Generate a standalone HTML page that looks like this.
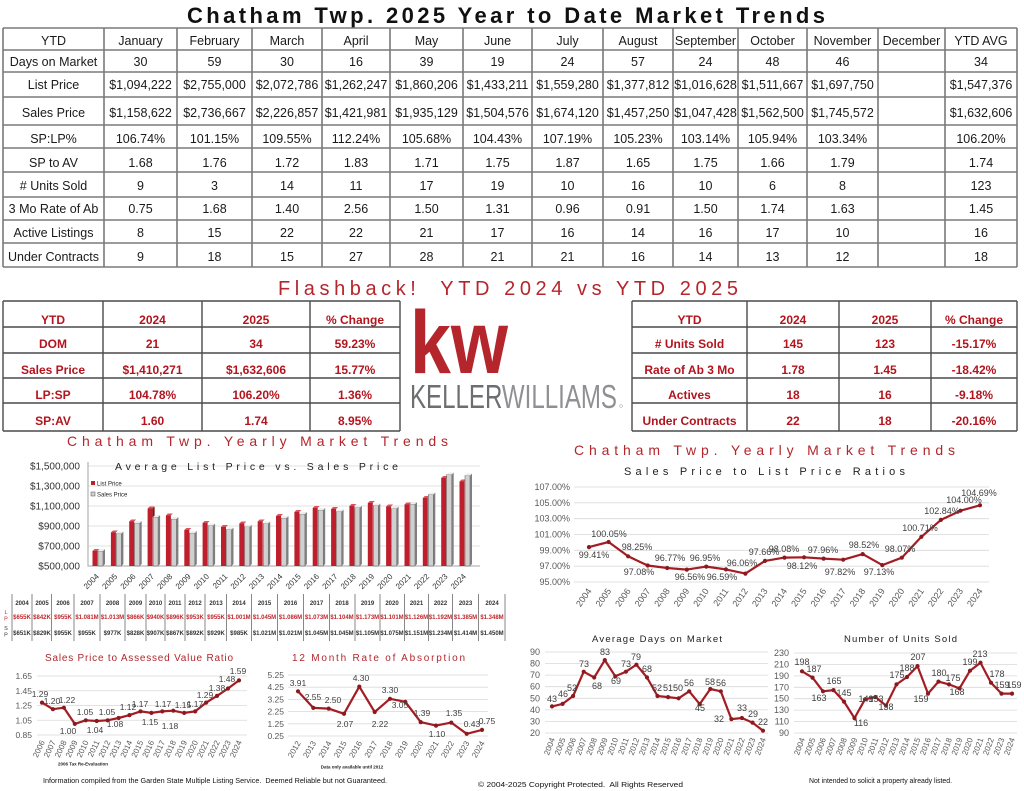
<!DOCTYPE html>
<html><head><meta charset="utf-8"><style>
html,body{margin:0;padding:0;background:#fff;}
svg{display:block;font-family:"Liberation Sans",sans-serif;}
.r{fill:#bf1e2d}.rs{fill:#7a1219}.rt{fill:#d9545c}
.g{fill:#d0d0d0;stroke:#555;stroke-width:.5}.gs{fill:#7f7f7f}.gt{fill:#ededed}
.grid{stroke:#d9d9d9;stroke-width:.8;fill:none}
.ln{fill:none;stroke:#a31d24;stroke-width:2.2;stroke-linejoin:round;marker-start:url(#m);marker-mid:url(#m);marker-end:url(#m)}
</style></head><body>
<svg width="1024" height="791" viewBox="0 0 1024 791" xmlns="http://www.w3.org/2000/svg">
<defs><marker id="m" markerWidth="6" markerHeight="6" refX="3" refY="3" markerUnits="userSpaceOnUse"><circle cx="3" cy="3" r="2.1" fill="#8b1a1f"/></marker></defs>
<rect width="1024" height="791" fill="#fff"/>

<!-- Title -->
<text x="187" y="23" font-size="22" font-weight="bold" fill="#111" textLength="638" lengthAdjust="spacing">Chatham Twp. 2025 Year to Date Market Trends</text>

<!-- Top table -->
<path d="M3 28H1017M3 50H1017M3 72H1017M3 97H1017M3 125H1017M3 148H1017M3 172H1017M3 197H1017M3 220H1017M3 243H1017M3 267H1017M3 28V267M104 28V267M177 28V267M252 28V267M322 28V267M390 28V267M463 28V267M532 28V267M603 28V267M673 28V267M738 28V267M807 28V267M878 28V267M945 28V267M1017 28V267" stroke="#7a7a7a" stroke-width="1.6" fill="none"/>
<g text-anchor="middle" font-size="12.5" fill="#1a1a1a">
<text y="45"><tspan x="53.5">YTD</tspan><tspan x="140.5">January</tspan><tspan x="214.5">February</tspan><tspan x="287">March</tspan><tspan x="356">April</tspan><tspan x="426.5">May</tspan><tspan x="497.5">June</tspan><tspan x="567.5">July</tspan><tspan x="638">August</tspan><tspan x="705.5">September</tspan><tspan x="772.5">October</tspan><tspan x="842.5">November</tspan><tspan x="911.5">December</tspan><tspan x="981">YTD AVG</tspan></text>
<text y="66"><tspan x="53.5">Days on Market</tspan><tspan x="140.5">30</tspan><tspan x="214.5">59</tspan><tspan x="287">30</tspan><tspan x="356">16</tspan><tspan x="426.5">39</tspan><tspan x="497.5">19</tspan><tspan x="567.5">24</tspan><tspan x="638">57</tspan><tspan x="705.5">24</tspan><tspan x="772.5">48</tspan><tspan x="842.5">46</tspan><tspan x="981">34</tspan></text>
<text y="89"><tspan x="53.5">List Price</tspan><tspan x="140.5">$1,094,222</tspan><tspan x="214.5">$2,755,000</tspan><tspan x="287">$2,072,786</tspan><tspan x="356">$1,262,247</tspan><tspan x="426.5">$1,860,206</tspan><tspan x="497.5">$1,433,211</tspan><tspan x="567.5">$1,559,280</tspan><tspan x="638">$1,377,812</tspan><tspan x="705.5">$1,016,628</tspan><tspan x="772.5">$1,511,667</tspan><tspan x="842.5">$1,697,750</tspan><tspan x="981">$1,547,376</tspan></text>
<text y="117"><tspan x="53.5">Sales Price</tspan><tspan x="140.5">$1,158,622</tspan><tspan x="214.5">$2,736,667</tspan><tspan x="287">$2,226,857</tspan><tspan x="356">$1,421,981</tspan><tspan x="426.5">$1,935,129</tspan><tspan x="497.5">$1,504,576</tspan><tspan x="567.5">$1,674,120</tspan><tspan x="638">$1,457,250</tspan><tspan x="705.5">$1,047,428</tspan><tspan x="772.5">$1,562,500</tspan><tspan x="842.5">$1,745,572</tspan><tspan x="981">$1,632,606</tspan></text>
<text y="143"><tspan x="53.5">SP:LP%</tspan><tspan x="140.5">106.74%</tspan><tspan x="214.5">101.15%</tspan><tspan x="287">109.55%</tspan><tspan x="356">112.24%</tspan><tspan x="426.5">105.68%</tspan><tspan x="497.5">104.43%</tspan><tspan x="567.5">107.19%</tspan><tspan x="638">105.23%</tspan><tspan x="705.5">103.14%</tspan><tspan x="772.5">105.94%</tspan><tspan x="842.5">103.34%</tspan><tspan x="981">106.20%</tspan></text>
<text y="167"><tspan x="53.5">SP to AV</tspan><tspan x="140.5">1.68</tspan><tspan x="214.5">1.76</tspan><tspan x="287">1.72</tspan><tspan x="356">1.83</tspan><tspan x="426.5">1.71</tspan><tspan x="497.5">1.75</tspan><tspan x="567.5">1.87</tspan><tspan x="638">1.65</tspan><tspan x="705.5">1.75</tspan><tspan x="772.5">1.66</tspan><tspan x="842.5">1.79</tspan><tspan x="981">1.74</tspan></text>
<text y="190"><tspan x="53.5"># Units Sold</tspan><tspan x="140.5">9</tspan><tspan x="214.5">3</tspan><tspan x="287">14</tspan><tspan x="356">11</tspan><tspan x="426.5">17</tspan><tspan x="497.5">19</tspan><tspan x="567.5">10</tspan><tspan x="638">16</tspan><tspan x="705.5">10</tspan><tspan x="772.5">6</tspan><tspan x="842.5">8</tspan><tspan x="981">123</tspan></text>
<text y="213"><tspan x="53.5">3 Mo Rate of Ab</tspan><tspan x="140.5">0.75</tspan><tspan x="214.5">1.68</tspan><tspan x="287">1.40</tspan><tspan x="356">2.56</tspan><tspan x="426.5">1.50</tspan><tspan x="497.5">1.31</tspan><tspan x="567.5">0.96</tspan><tspan x="638">0.91</tspan><tspan x="705.5">1.50</tspan><tspan x="772.5">1.74</tspan><tspan x="842.5">1.63</tspan><tspan x="981">1.45</tspan></text>
<text y="237"><tspan x="53.5">Active Listings</tspan><tspan x="140.5">8</tspan><tspan x="214.5">15</tspan><tspan x="287">22</tspan><tspan x="356">22</tspan><tspan x="426.5">21</tspan><tspan x="497.5">17</tspan><tspan x="567.5">16</tspan><tspan x="638">14</tspan><tspan x="705.5">16</tspan><tspan x="772.5">17</tspan><tspan x="842.5">10</tspan><tspan x="981">16</tspan></text>
<text y="261"><tspan x="53.5">Under Contracts</tspan><tspan x="140.5">9</tspan><tspan x="214.5">18</tspan><tspan x="287">15</tspan><tspan x="356">27</tspan><tspan x="426.5">28</tspan><tspan x="497.5">21</tspan><tspan x="567.5">21</tspan><tspan x="638">16</tspan><tspan x="705.5">14</tspan><tspan x="772.5">13</tspan><tspan x="842.5">12</tspan><tspan x="981">18</tspan></text>
</g>

<!-- Flashback -->
<text x="278" y="295" font-size="20" fill="#b5262c" textLength="460" lengthAdjust="spacing" style="white-space:pre">Flashback!  YTD 2024 vs YTD 2025</text>
<path d="M3 301H400M3 327H400M3 353H400M3 378H400M3 403H400M3 431H400M3 301V431M103 301V431M202 301V431M310 301V431M400 301V431M632 301H1017M632 327H1017M632 353H1017M632 378H1017M632 403H1017M632 431H1017M632 301V431M747 301V431M839 301V431M931 301V431M1017 301V431" stroke="#4a4a4a" stroke-width="1.4" fill="none"/>
<g text-anchor="middle" font-size="12" font-weight="bold" fill="#b3141d">
<text y="324"><tspan x="53">YTD</tspan><tspan x="152.5">2024</tspan><tspan x="256">2025</tspan><tspan x="355">% Change</tspan></text>
<text y="348"><tspan x="53">DOM</tspan><tspan x="152.5">21</tspan><tspan x="256">34</tspan><tspan x="355">59.23%</tspan></text>
<text y="374"><tspan x="53">Sales Price</tspan><tspan x="152.5">$1,410,271</tspan><tspan x="256">$1,632,606</tspan><tspan x="355">15.77%</tspan></text>
<text y="399"><tspan x="53">LP:SP</tspan><tspan x="152.5">104.78%</tspan><tspan x="256">106.20%</tspan><tspan x="355">1.36%</tspan></text>
<text y="425"><tspan x="53">SP:AV</tspan><tspan x="152.5">1.60</tspan><tspan x="256">1.74</tspan><tspan x="355">8.95%</tspan></text>
<text y="324"><tspan x="689.5">YTD</tspan><tspan x="793">2024</tspan><tspan x="885">2025</tspan><tspan x="974">% Change</tspan></text>
<text y="348"><tspan x="689.5"># Units Sold</tspan><tspan x="793">145</tspan><tspan x="885">123</tspan><tspan x="974">-15.17%</tspan></text>
<text y="374"><tspan x="689.5">Rate of Ab 3 Mo</tspan><tspan x="793">1.78</tspan><tspan x="885">1.45</tspan><tspan x="974">-18.42%</tspan></text>
<text y="399"><tspan x="689.5">Actives</tspan><tspan x="793">18</tspan><tspan x="885">16</tspan><tspan x="974">-9.18%</tspan></text>
<text y="425"><tspan x="689.5">Under Contracts</tspan><tspan x="793">22</tspan><tspan x="885">18</tspan><tspan x="974">-20.16%</tspan></text>
</g>

<!-- KW logo -->
<text x="410" y="373" font-size="89" font-weight="bold" fill="#b5262c" textLength="98" lengthAdjust="spacingAndGlyphs">kw</text>
<text x="410" y="408" font-size="33" textLength="207" lengthAdjust="spacingAndGlyphs"><tspan fill="#6d6e71">KELLER</tspan><tspan fill="#8f9093">WILLIAMS</tspan></text>
<circle cx="621" cy="406" r="1.4" fill="none" stroke="#999" stroke-width=".5"/>

<!-- Bar chart -->
<text x="67" y="446" font-size="14" fill="#b3262c" textLength="381" lengthAdjust="spacing">Chatham Twp. Yearly Market Trends</text>
<path class="grid" d="M88 466H480M88 486H480M88 506H480M88 526H480M88 546H480"/>
<path d="M88 462V566H480" stroke="#a6a6a6" stroke-width="1" fill="none"/>
<g font-size="10" fill="#333" text-anchor="end">
<text x="80" y="469.5">$1,500,000</text><text x="80" y="489.5">$1,300,000</text><text x="80" y="509.5">$1,100,000</text><text x="80" y="529.5">$900,000</text><text x="80" y="549.5">$700,000</text><text x="80" y="569.5">$500,000</text>
</g>
<text x="115" y="470" font-size="10.5" fill="#222" textLength="283" lengthAdjust="spacing">Average List Price vs. Sales Price</text>
<rect x="91" y="481" width="4" height="4" fill="#bf1e2d"/><text x="97" y="485.5" font-size="6" fill="#222">List Price</text>
<rect x="91" y="492" width="4" height="4" fill="#d0d0d0" stroke="#555" stroke-width=".5"/><text x="97" y="496.5" font-size="6" fill="#222">Sales Price</text>
<g transform="translate(92.5)"><rect class="r" y="551" width="5" height="15"/><path class="rt" d="M0 551l2-2h5l-2 2z"/><rect class="g" x="5.5" y="551" width="5" height="15"/><path class="gs" d="M10.5 551l2-2V564l-2 2z"/><path class="gt" d="M5.5 551l2-2h5l-2 2z"/></g>
<g transform="translate(110.9)"><rect class="r" y="532.5" width="5" height="33.5"/><path class="rt" d="M0 532.5l2-2h5l-2 2z"/><rect class="g" x="5.5" y="533.5" width="5" height="32.5"/><path class="gs" d="M10.5 533.5l2-2V564l-2 2z"/><path class="gt" d="M5.5 533.5l2-2h5l-2 2z"/></g>
<g transform="translate(129.2)"><rect class="r" y="521.5" width="5" height="44.5"/><path class="rt" d="M0 521.5l2-2h5l-2 2z"/><rect class="g" x="5.5" y="523" width="5" height="43"/><path class="gs" d="M10.5 523l2-2V564l-2 2z"/><path class="gt" d="M5.5 523l2-2h5l-2 2z"/></g>
<g transform="translate(147.6)"><rect class="r" y="508.5" width="5" height="57.5"/><path class="rt" d="M0 508.5l2-2h5l-2 2z"/><path class="rs" d="M5 508.5l2-2V517l-2 0z"/><rect class="g" x="5.5" y="517" width="5" height="49"/><path class="gs" d="M10.5 517l2-2V564l-2 2z"/><path class="gt" d="M5.5 517l2-2h5l-2 2z"/></g>
<g transform="translate(165.9)"><rect class="r" y="515.5" width="5" height="50.5"/><path class="rt" d="M0 515.5l2-2h5l-2 2z"/><rect class="g" x="5.5" y="519" width="5" height="47"/><path class="gs" d="M10.5 519l2-2V564l-2 2z"/><path class="gt" d="M5.5 519l2-2h5l-2 2z"/></g>
<g transform="translate(184.3)"><rect class="r" y="530" width="5" height="36"/><path class="rt" d="M0 530l2-2h5l-2 2z"/><rect class="g" x="5.5" y="533" width="5" height="33"/><path class="gs" d="M10.5 533l2-2V564l-2 2z"/><path class="gt" d="M5.5 533l2-2h5l-2 2z"/></g>
<g transform="translate(202.6)"><rect class="r" y="523" width="5" height="43"/><path class="rt" d="M0 523l2-2h5l-2 2z"/><rect class="g" x="5.5" y="525.5" width="5" height="40.5"/><path class="gs" d="M10.5 525.5l2-2V564l-2 2z"/><path class="gt" d="M5.5 525.5l2-2h5l-2 2z"/></g>
<g transform="translate(221)"><rect class="r" y="527" width="5" height="39"/><path class="rt" d="M0 527l2-2h5l-2 2z"/><rect class="g" x="5.5" y="529.5" width="5" height="36.5"/><path class="gs" d="M10.5 529.5l2-2V564l-2 2z"/><path class="gt" d="M5.5 529.5l2-2h5l-2 2z"/></g>
<g transform="translate(239.3)"><rect class="r" y="523.5" width="5" height="42.5"/><path class="rt" d="M0 523.5l2-2h5l-2 2z"/><rect class="g" x="5.5" y="526.7" width="5" height="39.3"/><path class="gs" d="M10.5 526.7l2-2V564l-2 2z"/><path class="gt" d="M5.5 526.7l2-2h5l-2 2z"/></g>
<g transform="translate(257.7)"><rect class="r" y="521.5" width="5" height="44.5"/><path class="rt" d="M0 521.5l2-2h5l-2 2z"/><rect class="g" x="5.5" y="523.5" width="5" height="42.5"/><path class="gs" d="M10.5 523.5l2-2V564l-2 2z"/><path class="gt" d="M5.5 523.5l2-2h5l-2 2z"/></g>
<g transform="translate(276)"><rect class="r" y="516" width="5" height="50"/><path class="rt" d="M0 516l2-2h5l-2 2z"/><rect class="g" x="5.5" y="518" width="5" height="48"/><path class="gs" d="M10.5 518l2-2V564l-2 2z"/><path class="gt" d="M5.5 518l2-2h5l-2 2z"/></g>
<g transform="translate(294.4)"><rect class="r" y="512" width="5" height="54"/><path class="rt" d="M0 512l2-2h5l-2 2z"/><rect class="g" x="5.5" y="514" width="5" height="52"/><path class="gs" d="M10.5 514l2-2V564l-2 2z"/><path class="gt" d="M5.5 514l2-2h5l-2 2z"/></g>
<g transform="translate(312.7)"><rect class="r" y="508" width="5" height="58"/><path class="rt" d="M0 508l2-2h5l-2 2z"/><rect class="g" x="5.5" y="510" width="5" height="56"/><path class="gs" d="M10.5 510l2-2V564l-2 2z"/><path class="gt" d="M5.5 510l2-2h5l-2 2z"/></g>
<g transform="translate(331.1)"><rect class="r" y="509" width="5" height="57"/><path class="rt" d="M0 509l2-2h5l-2 2z"/><rect class="g" x="5.5" y="511.5" width="5" height="54.5"/><path class="gs" d="M10.5 511.5l2-2V564l-2 2z"/><path class="gt" d="M5.5 511.5l2-2h5l-2 2z"/></g>
<g transform="translate(349.4)"><rect class="r" y="506" width="5" height="60"/><path class="rt" d="M0 506l2-2h5l-2 2z"/><rect class="g" x="5.5" y="507.5" width="5" height="58.5"/><path class="gs" d="M10.5 507.5l2-2V564l-2 2z"/><path class="gt" d="M5.5 507.5l2-2h5l-2 2z"/></g>
<g transform="translate(367.8)"><rect class="r" y="503" width="5" height="63"/><path class="rt" d="M0 503l2-2h5l-2 2z"/><rect class="g" x="5.5" y="505.5" width="5" height="60.5"/><path class="gs" d="M10.5 505.5l2-2V564l-2 2z"/><path class="gt" d="M5.5 505.5l2-2h5l-2 2z"/></g>
<g transform="translate(386.1)"><rect class="r" y="506.5" width="5" height="59.5"/><path class="rt" d="M0 506.5l2-2h5l-2 2z"/><rect class="g" x="5.5" y="508.5" width="5" height="57.5"/><path class="gs" d="M10.5 508.5l2-2V564l-2 2z"/><path class="gt" d="M5.5 508.5l2-2h5l-2 2z"/></g>
<g transform="translate(404.5)"><rect class="r" y="504.5" width="5" height="61.5"/><path class="rt" d="M0 504.5l2-2h5l-2 2z"/><rect class="g" x="5.5" y="504" width="5" height="62"/><path class="gs" d="M10.5 504l2-2V564l-2 2z"/><path class="gt" d="M5.5 504l2-2h5l-2 2z"/></g>
<g transform="translate(422.8)"><rect class="r" y="498" width="5" height="68"/><path class="rt" d="M0 498l2-2h5l-2 2z"/><rect class="g" x="5.5" y="494.5" width="5" height="71.5"/><path class="gs" d="M10.5 494.5l2-2V564l-2 2z"/><path class="gt" d="M5.5 494.5l2-2h5l-2 2z"/></g>
<g transform="translate(441.2)"><rect class="r" y="478" width="5" height="88"/><path class="rt" d="M0 478l2-2h5l-2 2z"/><rect class="g" x="5.5" y="474.5" width="5" height="91.5"/><path class="gs" d="M10.5 474.5l2-2V564l-2 2z"/><path class="gt" d="M5.5 474.5l2-2h5l-2 2z"/></g>
<g transform="translate(459.5)"><rect class="r" y="481.5" width="5" height="84.5"/><path class="rt" d="M0 481.5l2-2h5l-2 2z"/><rect class="g" x="5.5" y="475.5" width="5" height="90.5"/><path class="gs" d="M10.5 475.5l2-2V564l-2 2z"/><path class="gt" d="M5.5 475.5l2-2h5l-2 2z"/></g>
<g font-size="8" fill="#333" text-anchor="end">
<text transform="translate(99.5,577)rotate(-45)">2004</text><text transform="translate(117.9,577)rotate(-45)">2005</text><text transform="translate(136.2,577)rotate(-45)">2006</text><text transform="translate(154.6,577)rotate(-45)">2007</text><text transform="translate(172.9,577)rotate(-45)">2008</text><text transform="translate(191.3,577)rotate(-45)">2009</text><text transform="translate(209.6,577)rotate(-45)">2010</text><text transform="translate(228,577)rotate(-45)">2011</text><text transform="translate(246.3,577)rotate(-45)">2012</text><text transform="translate(264.7,577)rotate(-45)">2013</text><text transform="translate(283,577)rotate(-45)">2014</text><text transform="translate(301.4,577)rotate(-45)">2015</text><text transform="translate(319.7,577)rotate(-45)">2016</text><text transform="translate(338.1,577)rotate(-45)">2017</text><text transform="translate(356.4,577)rotate(-45)">2018</text><text transform="translate(374.8,577)rotate(-45)">2019</text><text transform="translate(393.1,577)rotate(-45)">2020</text><text transform="translate(411.5,577)rotate(-45)">2021</text><text transform="translate(429.8,577)rotate(-45)">2022</text><text transform="translate(448.2,577)rotate(-45)">2023</text><text transform="translate(466.5,577)rotate(-45)">2024</text>
</g>

<!-- Bar data table -->
<path d="M12 594V641M32 594V641M51.5 594V641M74 594V641M100 594V641M125 594V641M146 594V641M165 594V641M185 594V641M205 594V641M226.5 594V641M251.5 594V641M277.5 594V641M303.5 594V641M329.5 594V641M355 594V641M380 594V641M404.5 594V641M428.5 594V641M452.5 594V641M478.5 594V641M505 594V641" stroke="#555" stroke-width=".7" fill="none"/>
<g font-size="5.5" fill="#c0272d" text-anchor="middle"><text x="6" y="614">L</text><text x="6" y="620.5">P</text></g>
<g font-size="5.5" fill="#333" text-anchor="middle"><text x="6" y="630">S</text><text x="6" y="636.5">P</text></g>
<g font-size="6" font-weight="bold" text-anchor="middle">
<text y="605" fill="#333"><tspan x="22">2004</tspan><tspan x="42">2005</tspan><tspan x="63">2006</tspan><tspan x="87">2007</tspan><tspan x="112.5">2008</tspan><tspan x="135.5">2009</tspan><tspan x="155.5">2010</tspan><tspan x="175">2011</tspan><tspan x="195">2012</tspan><tspan x="216">2013</tspan><tspan x="239">2014</tspan><tspan x="264.5">2015</tspan><tspan x="290.5">2016</tspan><tspan x="316.5">2017</tspan><tspan x="342">2018</tspan><tspan x="367.5">2019</tspan><tspan x="392">2020</tspan><tspan x="416.5">2021</tspan><tspan x="440.5">2022</tspan><tspan x="465.5">2023</tspan><tspan x="492">2024</tspan></text>
<text y="619" fill="#c0272d"><tspan x="22">$655K</tspan><tspan x="42">$842K</tspan><tspan x="63">$955K</tspan><tspan x="87">$1.081M</tspan><tspan x="112.5">$1.013M</tspan><tspan x="135.5">$866K</tspan><tspan x="155.5">$940K</tspan><tspan x="175">$896K</tspan><tspan x="195">$953K</tspan><tspan x="216">$955K</tspan><tspan x="239">$1.001M</tspan><tspan x="264.5">$1.045M</tspan><tspan x="290.5">$1.086M</tspan><tspan x="316.5">$1.073M</tspan><tspan x="342">$1.104M</tspan><tspan x="367.5">$1.173M</tspan><tspan x="392">$1.101M</tspan><tspan x="416.5">$1.126M</tspan><tspan x="440.5">$1.192M</tspan><tspan x="465.5">$1.385M</tspan><tspan x="492">$1.348M</tspan></text>
<text y="635" fill="#333"><tspan x="22">$651K</tspan><tspan x="42">$829K</tspan><tspan x="63">$955K</tspan><tspan x="87">$955K</tspan><tspan x="112.5">$977K</tspan><tspan x="135.5">$828K</tspan><tspan x="155.5">$907K</tspan><tspan x="175">$867K</tspan><tspan x="195">$892K</tspan><tspan x="216">$929K</tspan><tspan x="239">$985K</tspan><tspan x="264.5">$1.021M</tspan><tspan x="290.5">$1.021M</tspan><tspan x="316.5">$1.045M</tspan><tspan x="342">$1.045M</tspan><tspan x="367.5">$1.105M</tspan><tspan x="392">$1.075M</tspan><tspan x="416.5">$1.151M</tspan><tspan x="440.5">$1.234M</tspan><tspan x="465.5">$1.414M</tspan><tspan x="492">$1.450M</tspan></text>
</g>

<!-- SP/LP chart -->
<text x="574" y="455" font-size="14" fill="#b3262c" textLength="381" lengthAdjust="spacing">Chatham Twp. Yearly Market Trends</text>
<text x="624" y="475" font-size="11" fill="#222" textLength="281" lengthAdjust="spacing">Sales Price to List Price Ratios</text>
<path class="grid" d="M574 487H989M574 502.8H989M574 518.7H989M574 534.5H989M574 550.3H989M574 566.2H989M574 582H989"/>
<g font-size="9" fill="#595959" text-anchor="end">
<text x="570" y="490">107.00%</text><text x="570" y="505.8">105.00%</text><text x="570" y="521.7">103.00%</text><text x="570" y="537.5">101.00%</text><text x="570" y="553.3">99.00%</text><text x="570" y="569.2">97.00%</text><text x="570" y="585">95.00%</text>
</g>
<polyline class="ln" points="589,547.1 608.6,542 628.1,556.3 647.7,565.5 667.2,568 686.8,569.6 706.3,566.6 725.9,569.4 745.4,573.6 765,560.9 784.5,557.6 804.1,557.3 823.6,558.6 843.2,559.7 862.7,554.1 882.3,565.1 901.8,557.7 921.4,536.8 940.9,519.9 960.5,510.7 980,505.3"/>
<g font-size="9" fill="#404040" text-anchor="middle">
<text x="594" y="558">99.41%</text><text x="609" y="537">100.05%</text><text x="637" y="550">98.25%</text><text x="639" y="575">97.08%</text><text x="670" y="561">96.77%</text><text x="690" y="580">96.56%</text><text x="705" y="561">96.95%</text><text x="722" y="580">96.59%</text><text x="742" y="566">96.06%</text><text x="764" y="555">97.66%</text><text x="784" y="552">98.08%</text><text x="802" y="569">98.12%</text><text x="823" y="553">97.96%</text><text x="840" y="575">97.82%</text><text x="864" y="548">98.52%</text><text x="879" y="575">97.13%</text><text x="900" y="552">98.07%</text><text x="920" y="531">100.71%</text><text x="942" y="514">102.84%</text><text x="964" y="503">104.00%</text><text x="979" y="496">104.69%</text>
</g>
<g font-size="9" fill="#595959" text-anchor="end">
<text transform="translate(592,591)rotate(-55)">2004</text><text transform="translate(611.6,591)rotate(-55)">2005</text><text transform="translate(631.1,591)rotate(-55)">2006</text><text transform="translate(650.7,591)rotate(-55)">2007</text><text transform="translate(670.2,591)rotate(-55)">2008</text><text transform="translate(689.8,591)rotate(-55)">2009</text><text transform="translate(709.3,591)rotate(-55)">2010</text><text transform="translate(728.9,591)rotate(-55)">2011</text><text transform="translate(748.4,591)rotate(-55)">2012</text><text transform="translate(768,591)rotate(-55)">2013</text><text transform="translate(787.5,591)rotate(-55)">2014</text><text transform="translate(807.1,591)rotate(-55)">2015</text><text transform="translate(826.6,591)rotate(-55)">2016</text><text transform="translate(846.2,591)rotate(-55)">2017</text><text transform="translate(865.7,591)rotate(-55)">2018</text><text transform="translate(885.3,591)rotate(-55)">2019</text><text transform="translate(904.8,591)rotate(-55)">2020</text><text transform="translate(924.4,591)rotate(-55)">2021</text><text transform="translate(943.9,591)rotate(-55)">2022</text><text transform="translate(963.5,591)rotate(-55)">2023</text><text transform="translate(983,591)rotate(-55)">2024</text>
</g>

<!-- Chart A: SP to AV -->
<text x="45" y="661" font-size="10" fill="#b3262c" textLength="188" lengthAdjust="spacing">Sales Price to Assessed Value Ratio</text>
<path class="grid" d="M37 676H247M37 690.75H247M37 705.5H247M37 720.25H247M37 735H247"/>
<g font-size="8.5" fill="#595959" text-anchor="end">
<text x="32" y="679">1.65</text><text x="32" y="693.75">1.45</text><text x="32" y="708.5">1.25</text><text x="32" y="723.25">1.05</text><text x="32" y="738">0.85</text>
</g>
<polyline class="ln" points="42,702.6 52.9,709.2 63.9,707.7 74.8,723.9 85.8,720.3 96.7,721 107.6,720.3 118.6,718 129.5,715.1 140.5,711.4 151.4,712.9 162.3,711.4 173.3,710.7 184.2,712.9 195.2,711.4 206.1,702.6 217,695.9 228,688.5 239,680.4"/>
<g font-size="8.5" fill="#404040" text-anchor="middle">
<text x="40" y="697">1.29</text><text x="52" y="704">1.20</text><text x="67" y="703">1.22</text><text x="68" y="734">1.00</text><text x="85" y="715">1.05</text><text x="95" y="733">1.04</text><text x="107" y="715">1.05</text><text x="115" y="727">1.08</text><text x="128" y="710">1.12</text><text x="140" y="707">1.17</text><text x="150" y="725">1.15</text><text x="163" y="707">1.17</text><text x="170" y="729">1.18</text><text x="183" y="708">1.15</text><text x="195" y="707">1.17</text><text x="205" y="698">1.29</text><text x="217" y="691">1.38</text><text x="227" y="682">1.48</text><text x="238" y="674">1.59</text>
</g>
<g font-size="8" fill="#595959" text-anchor="end">
<text transform="translate(45,742)rotate(-65)">2006</text><text transform="translate(55.9,742)rotate(-65)">2007</text><text transform="translate(66.9,742)rotate(-65)">2008</text><text transform="translate(77.8,742)rotate(-65)">2009</text><text transform="translate(88.8,742)rotate(-65)">2010</text><text transform="translate(99.7,742)rotate(-65)">2011</text><text transform="translate(110.6,742)rotate(-65)">2012</text><text transform="translate(121.6,742)rotate(-65)">2013</text><text transform="translate(132.5,742)rotate(-65)">2014</text><text transform="translate(143.5,742)rotate(-65)">2015</text><text transform="translate(154.4,742)rotate(-65)">2016</text><text transform="translate(165.3,742)rotate(-65)">2017</text><text transform="translate(176.3,742)rotate(-65)">2018</text><text transform="translate(187.2,742)rotate(-65)">2019</text><text transform="translate(198.2,742)rotate(-65)">2020</text><text transform="translate(209.1,742)rotate(-65)">2021</text><text transform="translate(220,742)rotate(-65)">2022</text><text transform="translate(231,742)rotate(-65)">2023</text><text transform="translate(242,742)rotate(-65)">2024</text>
</g>
<text x="58" y="765.5" font-size="4.5" font-weight="bold" fill="#222">2006 Tax Re-Evaluation</text>

<!-- Chart B: Absorption -->
<text x="292" y="661" font-size="10" fill="#b3262c" textLength="173" lengthAdjust="spacing">12 Month Rate of Absorption</text>
<path class="grid" d="M288 675H488M288 687.2H488M288 699.4H488M288 711.6H488M288 723.8H488M288 736H488"/>
<g font-size="8.5" fill="#595959" text-anchor="end">
<text x="284" y="678">5.25</text><text x="284" y="690.2">4.25</text><text x="284" y="702.4">3.25</text><text x="284" y="714.6">2.25</text><text x="284" y="726.8">1.25</text><text x="284" y="739">0.25</text>
</g>
<polyline class="ln" points="298,691.3 313.3,707.9 328.7,708.6 344,713.8 359.3,686.6 374.7,712 390,698.8 405.3,701.8 420.7,722.1 436,725.6 451.3,722.6 466.7,733.8 482,729.9"/>
<g font-size="8.5" fill="#404040" text-anchor="middle">
<text x="298" y="686">3.91</text><text x="313" y="700">2.55</text><text x="333" y="703">2.50</text><text x="345" y="727">2.07</text><text x="361" y="681">4.30</text><text x="380" y="727">2.22</text><text x="390" y="693">3.30</text><text x="400" y="708">3.05</text><text x="422" y="716">1.39</text><text x="437" y="737">1.10</text><text x="454" y="716">1.35</text><text x="472" y="727">0.43</text><text x="487" y="724">0.75</text>
</g>
<g font-size="8" fill="#595959" text-anchor="end">
<text transform="translate(301,743)rotate(-60)">2012</text><text transform="translate(316.3,743)rotate(-60)">2013</text><text transform="translate(331.7,743)rotate(-60)">2014</text><text transform="translate(347,743)rotate(-60)">2015</text><text transform="translate(362.3,743)rotate(-60)">2016</text><text transform="translate(377.7,743)rotate(-60)">2017</text><text transform="translate(393,743)rotate(-60)">2018</text><text transform="translate(408.3,743)rotate(-60)">2019</text><text transform="translate(423.7,743)rotate(-60)">2020</text><text transform="translate(439,743)rotate(-60)">2021</text><text transform="translate(454.3,743)rotate(-60)">2022</text><text transform="translate(469.7,743)rotate(-60)">2023</text><text transform="translate(485,743)rotate(-60)">2024</text>
</g>
<text x="352" y="768.5" font-size="4.5" font-weight="bold" fill="#222" text-anchor="middle">Data only available until 2012</text>

<!-- Chart C: DOM -->
<text x="592" y="642" font-size="9.5" fill="#222" textLength="130" lengthAdjust="spacing">Average Days on Market</text>
<path class="grid" d="M545 652H768M545 663.6H768M545 675.1H768M545 686.7H768M545 698.3H768M545 709.9H768M545 721.4H768M545 733H768"/>
<g font-size="9" fill="#595959" text-anchor="end">
<text x="540" y="655">90</text><text x="540" y="666.6">80</text><text x="540" y="678.1">70</text><text x="540" y="689.7">60</text><text x="540" y="701.3">50</text><text x="540" y="712.9">40</text><text x="540" y="724.4">30</text><text x="540" y="736">20</text>
</g>
<polyline class="ln" points="552,706.4 562.6,703.9 573.1,696 583.7,671.7 594.2,677.5 604.8,660.1 615.3,676.3 625.9,671.7 636.4,664.7 647,677.5 657.5,696 668.1,697.1 678.6,698.3 689.2,691.3 699.7,704.1 710.3,689 720.8,691.3 731.4,719.1 741.9,718 752.5,722.6 763,730.7"/>
<g font-size="9" fill="#404040" text-anchor="middle">
<text x="552" y="702">43</text><text x="563" y="697">46</text><text x="572" y="691">52</text><text x="584" y="667">73</text><text x="597" y="689">68</text><text x="605" y="655">83</text><text x="616" y="684">69</text><text x="626" y="667">73</text><text x="636" y="660">79</text><text x="647" y="672">68</text><text x="657" y="691">52</text><text x="668" y="691">51</text><text x="678" y="691">50</text><text x="689" y="686">56</text><text x="700" y="711">45</text><text x="710" y="685">58</text><text x="721" y="686">56</text><text x="719" y="722">32</text><text x="742" y="711">33</text><text x="753" y="717">29</text><text x="763" y="725">22</text>
</g>
<g font-size="8" fill="#595959" text-anchor="end">
<text transform="translate(555,739)rotate(-70)">2004</text><text transform="translate(565.6,739)rotate(-70)">2005</text><text transform="translate(576.1,739)rotate(-70)">2006</text><text transform="translate(586.7,739)rotate(-70)">2007</text><text transform="translate(597.2,739)rotate(-70)">2008</text><text transform="translate(607.8,739)rotate(-70)">2009</text><text transform="translate(618.3,739)rotate(-70)">2010</text><text transform="translate(628.9,739)rotate(-70)">2011</text><text transform="translate(639.4,739)rotate(-70)">2012</text><text transform="translate(650,739)rotate(-70)">2013</text><text transform="translate(660.5,739)rotate(-70)">2014</text><text transform="translate(671.1,739)rotate(-70)">2015</text><text transform="translate(681.6,739)rotate(-70)">2016</text><text transform="translate(692.2,739)rotate(-70)">2017</text><text transform="translate(702.7,739)rotate(-70)">2018</text><text transform="translate(713.3,739)rotate(-70)">2019</text><text transform="translate(723.8,739)rotate(-70)">2020</text><text transform="translate(734.4,739)rotate(-70)">2021</text><text transform="translate(744.9,739)rotate(-70)">2022</text><text transform="translate(755.5,739)rotate(-70)">2023</text><text transform="translate(766,739)rotate(-70)">2024</text>
</g>

<!-- Chart D: Units Sold -->
<text x="844" y="642" font-size="9.5" fill="#222" textLength="113" lengthAdjust="spacing">Number of Units Sold</text>
<path class="grid" d="M794 653H1017M794 664.4H1017M794 675.9H1017M794 687.3H1017M794 698.7H1017M794 710.1H1017M794 721.6H1017M794 733H1017"/>
<g font-size="9" fill="#595959" text-anchor="end">
<text x="789" y="656">230</text><text x="789" y="667.4">210</text><text x="789" y="678.9">190</text><text x="789" y="690.3">170</text><text x="789" y="701.7">150</text><text x="789" y="713.1">130</text><text x="789" y="724.6">110</text><text x="789" y="736">90</text>
</g>
<polyline class="ln" points="802,671.3 812.5,677.6 823,691.3 833.5,690.1 844,701.6 854.5,718.1 865,699.3 875.5,697 886,705.6 896.5,684.4 907,677 917.5,666.1 928,693.6 938.5,681.6 949,684.4 959.5,688.4 970,670.7 980.5,662.7 991,682.7 1001.5,693.6 1012,693.6"/>
<g font-size="9" fill="#404040" text-anchor="middle">
<text x="802" y="665">198</text><text x="814" y="672">187</text><text x="819" y="701">163</text><text x="834" y="684">165</text><text x="844" y="696">145</text><text x="861" y="726">116</text><text x="866" y="702">149</text><text x="876" y="702">153</text><text x="886" y="710">138</text><text x="897" y="678">175</text><text x="907" y="671">188</text><text x="918" y="660">207</text><text x="921" y="702">159</text><text x="939" y="676">180</text><text x="953" y="681">175</text><text x="957" y="695">168</text><text x="970" y="665">199</text><text x="980" y="657">213</text><text x="997" y="677">178</text><text x="1002" y="688">159</text><text x="1014" y="688">159</text>
</g>
<g font-size="8" fill="#595959" text-anchor="end">
<text transform="translate(805,739)rotate(-70)">2004</text><text transform="translate(815.5,739)rotate(-70)">2005</text><text transform="translate(826,739)rotate(-70)">2006</text><text transform="translate(836.5,739)rotate(-70)">2007</text><text transform="translate(847,739)rotate(-70)">2008</text><text transform="translate(857.5,739)rotate(-70)">2009</text><text transform="translate(868,739)rotate(-70)">2010</text><text transform="translate(878.5,739)rotate(-70)">2011</text><text transform="translate(889,739)rotate(-70)">2012</text><text transform="translate(899.5,739)rotate(-70)">2013</text><text transform="translate(910,739)rotate(-70)">2014</text><text transform="translate(920.5,739)rotate(-70)">2015</text><text transform="translate(931,739)rotate(-70)">2016</text><text transform="translate(941.5,739)rotate(-70)">2017</text><text transform="translate(952,739)rotate(-70)">2018</text><text transform="translate(962.5,739)rotate(-70)">2019</text><text transform="translate(973,739)rotate(-70)">2020</text><text transform="translate(983.5,739)rotate(-70)">2021</text><text transform="translate(994,739)rotate(-70)">2022</text><text transform="translate(1004.5,739)rotate(-70)">2023</text><text transform="translate(1015,739)rotate(-70)">2024</text>
</g>

<!-- Footer -->
<text x="43" y="783" font-size="7.5" fill="#111" textLength="344" lengthAdjust="spacingAndGlyphs" style="white-space:pre">Information compiled from the Garden State Multiple Listing Service.  Deemed Reliable but not Guaranteed.</text>
<text x="478" y="787" font-size="7.5" fill="#111" textLength="205" lengthAdjust="spacingAndGlyphs" style="white-space:pre">© 2004-2025 Copyright Protected.  All Rights Reserved</text>
<text x="809" y="783" font-size="7.5" fill="#111" textLength="143" lengthAdjust="spacingAndGlyphs">Not intended to solicit a property already listed.</text>
</svg>
</body></html>
